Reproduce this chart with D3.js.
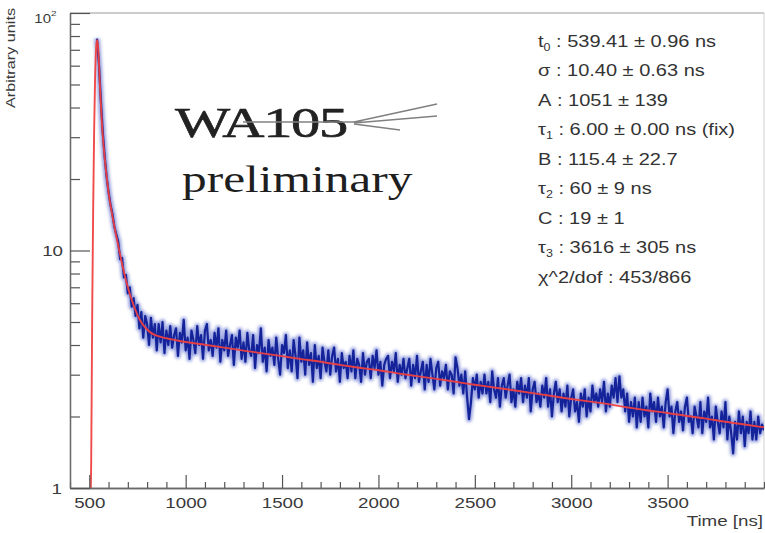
<!DOCTYPE html>
<html><head><meta charset="utf-8">
<script src="https://cdn.jsdelivr.net/npm/d3@7"></script>
<style>body{margin:0;background:#fff}svg{display:block}</style>
</head><body><svg id="c" width="765" height="533"></svg>
<script>
// ---- data ----
const xTickValues = [500, 1000, 1500, 2000, 2500, 3000, 3500];
const yMajorValues = [1, 10, 100];
const yMinorValues = [2, 3, 4, 5, 6, 7, 8, 9, 20, 30, 40, 50, 60, 70, 80, 90];
const xTitle = "Time [ns]";
const yTitle = "Arbitrary units";

// fit curve (red)
const fitTime = [506,510,515,520,525,530,535,540,545,550,555,560,565,570,580,590,600,620,640,660,680,700,720,740,760,780,800,820,850,900,950,1000,
 1100,1200,1300,1400,1500,1600,1700,1800,1900,2000,2100,2200,2300,2400,2500,2600,2700,2800,2900,3000,3100,3200,3300,3400,3500,3600,3700,3800,3900,4000];
const fitValue = [0.85,1.3,5.2,14.5,31,53,70,77,73,62,50,42,35,30.5,24.5,20.5,17.5,14.0,11.5,9.6,8.1,7.0,6.2,5.6,5.15,4.85,4.65,4.5,4.38,4.27,4.19,4.12,
 4.01,3.90,3.79,3.69,3.59,3.49,3.40,3.30,3.21,3.13,3.04,2.96,2.88,2.80,2.72,2.65,2.58,2.51,2.44,2.37,2.31,2.25,2.18,2.12,2.07,2.01,1.96,1.90,1.85,1.80];

// measured histogram (blue), bins of 10 ns starting at 540 ns
const blueStart = 540, blueBin = 10;
const blueValues = [
78,61,43,31.5,24.8,20.4,17.6,15.6,14.3,12.6,11.7,
10.9,9.2,9.3,7.7,7.9,6.6,7.0,5.8,6.3,5.3,
5.9,4.7,5.5,4.3,5.3,4.9,4.0,5.2,4.3,4.9,
3.8,4.9,4.1,5.0,3.7,4.6,4.0,4.8,3.9,4.4,
4.7,3.6,4.5,4.1,5.1,3.8,4.3,3.5,4.6,4.2,
3.7,4.8,4.0,4.4,3.5,4.6,4.9,3.8,4.2,3.6,
4.5,3.9,4.7,3.4,4.2,3.8,4.6,3.6,4.0,4.4,
3.3,4.3,3.9,4.6,3.5,4.1,3.4,4.5,3.8,3.6,
4.4,3.2,4.0,3.7,4.7,3.4,3.9,3.1,4.2,3.6,
3.9,3.3,4.3,3.5,3.0,4.0,3.7,4.4,3.2,3.8,
3.1,4.2,3.6,2.9,4.3,3.4,3.8,3.0,4.1,3.3,
3.7,2.8,4.0,3.2,3.6,2.9,3.9,3.4,3.1,3.8,
3.0,3.6,3.9,3.1,3.5,2.8,3.7,3.2,3.4,2.9,
3.6,3.1,3.8,2.9,3.5,3.3,2.8,3.7,3.0,3.4,
3.5,2.9,3.6,3.2,3.8,3.0,3.4,2.7,3.3,3.5,
3.6,2.9,3.4,3.1,3.7,2.8,3.3,3.0,3.5,2.9,
3.2,3.5,2.7,3.3,2.9,3.6,2.8,3.1,3.4,2.6,
3.3,2.8,3.5,3.0,2.6,3.2,3.4,2.7,3.1,2.9,
3.3,2.6,3.1,3.0,2.5,3.55,3.2,2.7,3.0,2.5,
3.1,2.4,1.95,2.3,2.9,2.6,3.0,2.4,2.8,2.5,
3.0,2.5,2.8,2.3,3.1,2.6,2.4,2.9,2.2,2.7,
2.9,2.4,2.7,3.0,2.3,2.6,2.2,2.8,2.5,2.9,
2.3,2.7,2.4,2.9,2.1,2.6,2.8,2.3,2.5,2.2,
2.7,2.4,2.9,2.2,2.6,2.0,2.5,2.8,2.3,2.6,
2.1,2.5,2.2,2.7,2.0,2.4,2.6,2.1,2.3,1.9,
2.5,2.2,2.6,2.0,2.4,2.1,2.7,2.3,2.5,2.2,
2.6,2.3,2.8,2.1,2.5,2.2,2.7,2.4,2.9,2.3,
2.95,2.4,2.6,2.1,2.5,1.9,2.3,2.0,2.4,1.8,
2.3,1.9,2.4,2.0,2.2,1.8,2.5,2.1,2.3,1.9,
2.4,2.0,2.2,1.8,2.3,2.6,2.0,2.2,1.7,2.1,
2.3,1.9,2.1,1.75,2.2,2.4,1.9,2.0,1.7,2.2,
2.0,1.8,2.3,1.7,2.1,1.9,2.4,1.8,2.0,1.6,
2.2,1.9,1.7,2.1,1.8,2.3,1.6,2.0,1.7,1.4,
1.9,1.6,2.1,1.7,2.0,1.5,1.9,1.7,2.1,1.6,
1.9,1.6,2.0,1.7,1.85,1.75
];

// fit parameter box
const paramNames = ["t", "\u03C3", "A", "\u03C4", "B", "\u03C4", "C", "\u03C4", "\u03C7^2/dof"];
const paramSubs  = ["0", "", "", "1", "", "2", "", "3", ""];
const paramTexts = ["539.41 \u00B1 0.96 ns", "10.40 \u00B1 0.63 ns", "1051 \u00B1 139", "6.00 \u00B1 0.00 ns (fix)",
  "115.4 \u00B1 22.7", "60 \u00B1 9 ns", "19 \u00B1 1", "3616 \u00B1 305 ns", "453/866"];

// ---- drawing ----
const svg = d3.select("#c");
const L = 70, R = 764, T = 13, B = 488;
const x = d3.scaleLinear().domain([400, 4000]).range([L, R]);
const y = d3.scaleLog().domain([1, 100]).range([B, T]);
const SX = 1.25;
const sans = "'Liberation Sans', Arial, Helvetica, sans-serif";
const serif = "'Liberation Serif', 'Times New Roman', serif";

const defs = svg.append("defs");
defs.append("clipPath").attr("id", "clip")
  .append("rect").attr("x", L).attr("y", T).attr("width", R - L).attr("height", B - T);
defs.append("filter").attr("id", "soft").attr("x", "-5%").attr("y", "-20%").attr("width", "110%").attr("height", "140%")
  .append("feGaussianBlur").attr("stdDeviation", 1.4);

// frame
svg.append("line").attr("x1", L).attr("x2", R).attr("y1", T).attr("y2", T).attr("stroke", "#9a9a9a").attr("stroke-width", 1.2);
svg.append("line").attr("x1", R).attr("x2", R).attr("y1", T).attr("y2", B).attr("stroke", "#d0d0d0").attr("stroke-width", 1);

// data
const plot = svg.append("g").attr("clip-path", "url(#clip)");
const bluePts = blueValues.map((v, i) => [blueStart + i * blueBin, v]);
const blueLine = d3.line().x(d => x(d[0])).y(d => y(d[1]));
plot.append("path").datum(bluePts)
  .attr("fill", "none").attr("stroke", "#3347c2").attr("stroke-width", 6).attr("stroke-opacity", 0.5)
  .attr("stroke-linejoin", "round").attr("filter", "url(#soft)").attr("d", blueLine);
plot.append("path").datum(bluePts)
  .attr("fill", "none").attr("stroke", "#14239a").attr("stroke-width", 2.2).attr("stroke-linejoin", "round")
  .attr("d", blueLine);
const fitPts = fitTime.map((t, i) => [t, fitValue[i]]);
plot.append("path").datum(fitPts)
  .attr("fill", "none").attr("stroke", "#ef4040").attr("stroke-width", 1.9).attr("stroke-opacity", 0.95)
  .attr("d", d3.line().curve(d3.curveMonotoneX).x(d => x(d[0])).y(d => y(d[1])));

// x axis
const xMinor = d3.range(400, 4001, 100).filter(v => !xTickValues.includes(v));
const gxm = svg.append("g").attr("transform", `translate(0,${B})`)
  .call(d3.axisBottom(x).tickValues(xMinor).tickSize(-6).tickSizeOuter(0).tickFormat(""));
const gx = svg.append("g").attr("transform", `translate(0,${B})`)
  .call(d3.axisBottom(x).tickValues(xTickValues).tickSize(-13).tickSizeOuter(0).tickPadding(9).tickFormat(d3.format("d")));
[gxm, gx].forEach(g => { g.select(".domain").attr("stroke", "#6a6a6a").attr("stroke-width", 1.3); g.selectAll(".tick line").attr("stroke", "#555").attr("stroke-width", 1.2); });
gx.selectAll(".tick text").attr("font-family", sans).attr("font-size", 15).attr("fill", "#3a3a3a")
  .attr("transform", `scale(${SX},1)`);

// y axis
const gym = svg.append("g").attr("transform", `translate(${L},0)`)
  .call(d3.axisLeft(y).tickValues(yMinorValues).tickSize(-10).tickSizeOuter(0).tickFormat(""));
const gy = svg.append("g").attr("transform", `translate(${L},0)`)
  .call(d3.axisLeft(y).tickValues(yMajorValues).tickSize(-20).tickSizeOuter(0).tickFormat(""));
[gym, gy].forEach(g => { g.select(".domain").attr("stroke", "#6a6a6a").attr("stroke-width", 1.3); g.selectAll(".tick line").attr("stroke", "#555").attr("stroke-width", 1.2); });

// y tick labels
svg.append("text").attr("transform", `translate(62,${y(1) + 6}) scale(${SX},1)`).attr("text-anchor", "end")
  .attr("font-family", sans).attr("font-size", 15).attr("fill", "#3a3a3a").text("1");
svg.append("text").attr("transform", `translate(63,${y(10) + 5}) scale(${SX},1)`).attr("text-anchor", "end")
  .attr("font-family", sans).attr("font-size", 15).attr("fill", "#3a3a3a").text("10");
svg.append("text").attr("transform", `translate(51,${y(100) + 10}) scale(${SX},1)`).attr("text-anchor", "end")
  .attr("font-family", sans).attr("font-size", 12).attr("fill", "#3a3a3a").text("10");
svg.append("text").attr("transform", `translate(51,${y(100) + 3}) scale(${SX},1)`).attr("text-anchor", "start")
  .attr("font-family", sans).attr("font-size", 8).attr("fill", "#3a3a3a").text("2");

// axis titles
svg.append("text").attr("transform", `translate(763,526) scale(${SX},1)`).attr("text-anchor", "end")
  .attr("font-family", sans).attr("font-size", 15).attr("fill", "#3a3a3a").text(xTitle);
svg.append("text").attr("transform", "translate(15,108) rotate(-90)").attr("text-anchor", "start")
  .attr("font-family", sans).attr("font-size", 12).attr("fill", "#3a3a3a")
  .attr("textLength", 100).attr("lengthAdjust", "spacingAndGlyphs").text(yTitle);

// parameter box
paramNames.forEach((n, i) => {
  const t = svg.append("text").attr("transform", `translate(538,${46.5 + i * 29.5}) scale(${SX},1)`)
    .attr("font-family", sans).attr("font-size", 16).attr("fill", "#333");
  t.append("tspan").text(n);
  if (paramSubs[i]) {
    t.append("tspan").attr("font-size", 10).attr("dy", 4).text(paramSubs[i]);
    t.append("tspan").attr("dy", -4).text(" : " + paramTexts[i]);
  } else {
    t.append("tspan").text(" : " + paramTexts[i]);
  }
});

// WA105 preliminary logo
const logo = svg.append("g");
logo.append("text").attr("transform", "translate(175,137) scale(1.36,1)")
  .attr("font-family", serif).attr("font-size", 43).attr("fill", "#222")
  .attr("stroke", "#222").attr("stroke-width", 0.6).attr("letter-spacing", -1).text("WA105");
const strk = [[243,122,362,122],[354,122,437,104],[354,123,437,116],[354,124,400,130]];
strk.forEach(s => logo.append("line").attr("x1", s[0]).attr("y1", s[1]).attr("x2", s[2]).attr("y2", s[3])
  .attr("stroke", "#808080").attr("stroke-width", 1.6));
logo.append("text").attr("transform", "translate(182,192) scale(1.3,1)")
  .attr("font-family", serif).attr("font-size", 38).attr("fill", "#1e1e1e").text("preliminary");
</script></body></html>
